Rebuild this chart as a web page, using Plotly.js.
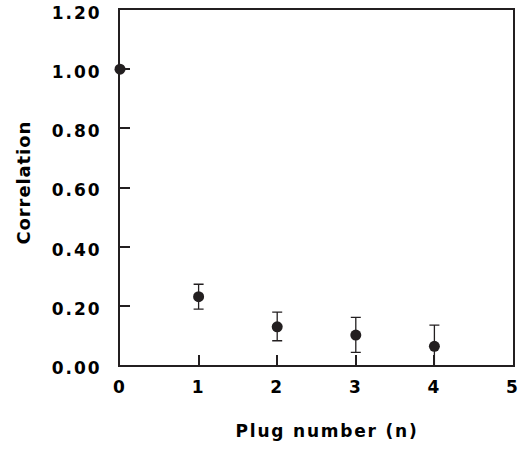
<!DOCTYPE html>
<html>
<head>
<meta charset="utf-8">
<script src="https://cdn.plot.ly/plotly-3.0.1.min.js"></script>
<style>
html,body{margin:0;padding:0;background:#fff;}
#chart{width:529px;height:449px;}
.xtick text,.ytick text{letter-spacing:2px;}
.annotation[data-index="0"] .annotation-text{letter-spacing:1.8px;}
.annotation[data-index="1"] .annotation-text{letter-spacing:0.9px;}
</style>
</head>
<body>
<div id="chart"></div>
<script>
const plugNumber = [0, 1, 2, 3, 4];
const correlation = [1.00, 0.231, 0.129, 0.101, 0.063];
const errorPlus = [0, 0.042, 0.05, 0.06, 0.072];
const errorMinus = [0, 0.042, 0.047, 0.058, 0.065];
const xTickVals = [0, 1, 2, 3, 4, 5];
const yTickVals = [0, 0.2, 0.4, 0.6, 0.8, 1.0, 1.2];
const yTickText = ['0.00', '0.20', '0.40', '0.60', '0.80', '1.00', '1.20'];
const xTitle = 'Plug number (n)';
const yTitle = 'Correlation';

const ink = '#231f20';
const fam = '"DejaVu Sans", "Liberation Sans", Arial, sans-serif';
const trace = {
  x: plugNumber,
  y: correlation,
  type: 'scatter',
  mode: 'markers',
  cliponaxis: false,
  marker: {color: ink, size: 11},
  error_y: {
    type: 'data',
    symmetric: false,
    array: errorPlus,
    arrayminus: errorMinus,
    color: ink,
    thickness: 1.3,
    width: 5
  },
  showlegend: false
};

const tickFont = {family: fam, size: 17, weight: 'bold', color: '#000'};
const layout = {
  width: 529,
  height: 449,
  margin: {l: 120, r: 16, t: 10, b: 84},
  paper_bgcolor: '#fff',
  plot_bgcolor: '#fff',
  font: {family: fam, color: '#000'},
  xaxis: {
    range: [0, 5],
    tickvals: xTickVals,
    ticks: 'inside',
    ticklen: 10,
    tickwidth: 2,
    tickcolor: ink,
    showline: true,
    linecolor: ink,
    linewidth: 2,
    mirror: true,
    showgrid: false,
    zeroline: false,
    ticklabelstandoff: 6,
    tickfont: tickFont
  },
  yaxis: {
    range: [0, 1.2],
    tickvals: yTickVals,
    ticktext: yTickText,
    ticks: 'inside',
    ticklen: 10,
    tickwidth: 2,
    tickcolor: ink,
    showline: true,
    linecolor: ink,
    linewidth: 2,
    mirror: true,
    showgrid: false,
    zeroline: false,
    ticklabelstandoff: 13,
    ticklabelshift: 3,
    tickfont: tickFont
  },
  annotations: [
    {
      text: xTitle, xref: 'paper', yref: 'paper', x: 0.527, y: -0.185,
      xanchor: 'center', yanchor: 'middle', showarrow: false,
      font: {family: fam, size: 17, weight: 'bold', color: '#000'}
    },
    {
      text: yTitle, xref: 'paper', yref: 'paper', x: -0.245, y: 0.513,
      xanchor: 'center', yanchor: 'middle', showarrow: false, textangle: -90,
      font: {family: fam, size: 18, weight: 'bold', color: '#000'}
    }
  ]
};

Plotly.newPlot('chart', [trace], layout, {displayModeBar: false, staticPlot: true});
</script>
</body>
</html>
